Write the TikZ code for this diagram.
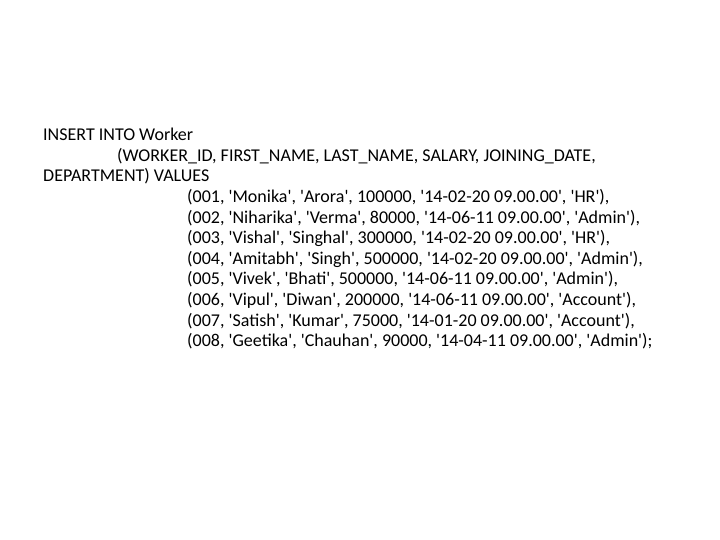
\documentclass[tikz,border=0pt]{standalone}
\usepackage{fontspec}
\setmainfont{Carlito}[Ligatures=TeXOff]
\begin{document}
\begin{tikzpicture}[x=1bp,y=-1bp]
    \tikzset{sqlline/.style = {anchor=base west,inner sep=0pt,font=\fontsize{18bp}{20bp}\selectfont}}
    \useasboundingbox (0,0) rectangle (720,540);

    % header
    \node[sqlline] (head) at (43,141) {INSERT INTO Worker};
    \node[sqlline] (cols) at (117,162) {(WORKER\_ID, FIRST\_NAME, LAST\_NAME, SALARY, JOINING\_DATE,};
    \node[sqlline] (dept) at (43,182) {DEPARTMENT) VALUES};

    % rows
    \foreach \i/\txt in {
      1/{(001, 'Monika', 'Arora', 100000, '14-02-20 09.00.00', 'HR'),},
      2/{(002, 'Niharika', 'Verma', 80000, '14-06-11 09.00.00', 'Admin'),},
      3/{(003, 'Vishal', 'Singhal', 300000, '14-02-20 09.00.00', 'HR'),},
      4/{(004, 'Amitabh', 'Singh', 500000, '14-02-20 09.00.00', 'Admin'),},
      5/{(005, 'Vivek', 'Bhati', 500000, '14-06-11 09.00.00', 'Admin'),},
      6/{(006, 'Vipul', 'Diwan', 200000, '14-06-11 09.00.00', 'Account'),},
      7/{(007, 'Satish', 'Kumar', 75000, '14-01-20 09.00.00', 'Account'),},
      8/{(008, 'Geetika', 'Chauhan', 90000, '14-04-11 09.00.00', 'Admin');}}
    {
      \node[sqlline] (row\i) at (187,{182+20.6*\i}) {\txt};
    }

\end{tikzpicture}
\end{document}
